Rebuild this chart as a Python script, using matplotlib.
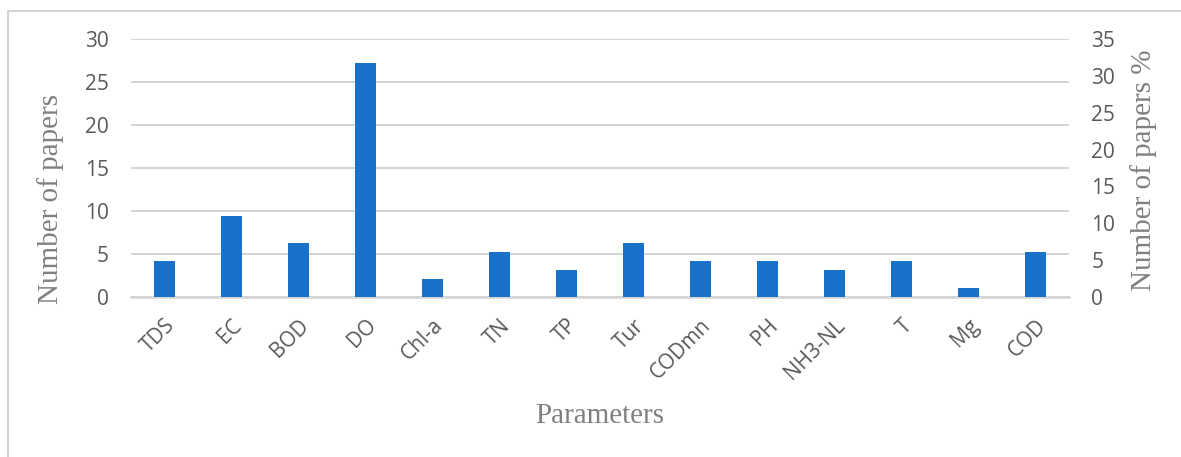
import matplotlib
matplotlib.use("Agg")
import matplotlib.pyplot as plt
from matplotlib.lines import Line2D

categories = ["TDS", "EC", "BOD", "DO", "Chl-a", "TN", "TP", "Tur", "CODmn",
              "PH", "NH3-NL", "T", "Mg", "COD"]
# share of papers (%), plotted against the right-hand axis
percent_papers = [4.9, 11.0, 7.3, 31.7, 2.4, 6.1, 3.7, 7.3, 4.9, 4.9, 3.7, 4.9, 1.2, 6.1]
left_ticks = [0, 5, 10, 15, 20, 25, 30]
right_ticks = [0, 5, 10, 15, 20, 25, 30, 35]

W, H = 1181, 457
fig = plt.figure(figsize=(W / 100, H / 100), dpi=100)
fig.patch.set_facecolor("white")

x0, x1, y0, y1 = 131, 1069, 39, 297
ax = fig.add_axes([x0 / W, 1 - y1 / H, (x1 - x0) / W, (y1 - y0) / H])
ax2 = ax.twinx()

tick_color = "#595959"
title_color = "#808080"
grid_color = "#d4d4d4"
bar_color = "#1872C9"
tick_font = "Open Sans"
title_font = "Liberation Serif"

xs = list(range(len(categories)))
ax2.bar(xs, percent_papers, width=0.31, color=bar_color, zorder=3)

ax.set_xlim(-0.5, len(categories) - 0.5)
ax.set_ylim(0, 30)
ax2.set_ylim(0, 35)
ax.set_yticks(left_ticks)
ax2.set_yticks(right_ticks)
ax.set_xticks(xs)
ax.set_xticklabels(categories, rotation=45, ha="right", va="top",
                   rotation_mode="anchor", fontsize=15, family=tick_font,
                   color=tick_color)
ax.tick_params(axis="x", length=0, pad=13)
ax.tick_params(axis="y", length=0, pad=16, labelsize=15, labelcolor=tick_color)
ax2.tick_params(axis="y", length=0, pad=16, labelsize=15, labelcolor=tick_color)
for lab in ax.get_yticklabels() + ax2.get_yticklabels():
    lab.set_family(tick_font)

ax.grid(axis="y", color=grid_color, linewidth=1.4, zorder=0)
ax.set_axisbelow(True)
for a in (ax, ax2):
    for s in ("top", "left", "right", "bottom"):
        a.spines[s].set_visible(False)
ax.axhline(0, color=grid_color, linewidth=1.8, zorder=2, clip_on=False)

ax.set_ylabel("Number of papers", fontsize=21, family=title_font,
              color=title_color, ha="center", va="center")
ax.yaxis.set_label_coords((51 - x0) / (x1 - x0), (y1 - 199) / (y1 - y0))
ax2.set_ylabel("Number of papers %", fontsize=21, family=title_font,
               color=title_color, ha="center", va="center")
ax2.yaxis.set_label_coords((1144 - x0) / (x1 - x0), (y1 - 170) / (y1 - y0))
ax.set_xlabel("Parameters", fontsize=21, family=title_font,
              color=title_color, ha="center", va="baseline")
ax.xaxis.set_label_coords(0.5, (y1 - 423) / (y1 - y0))

# chart-area border (left and top edges visible)
fig.add_artist(Line2D([7.5 / W, 7.5 / W], [0, 1 - 10.5 / H], color=grid_color,
                      linewidth=1.5, transform=fig.transFigure))
fig.add_artist(Line2D([7.5 / W, 1], [1 - 10.5 / H, 1 - 10.5 / H], color=grid_color,
                      linewidth=1.5, transform=fig.transFigure))

fig.savefig("out.png", dpi=100, facecolor="white")
